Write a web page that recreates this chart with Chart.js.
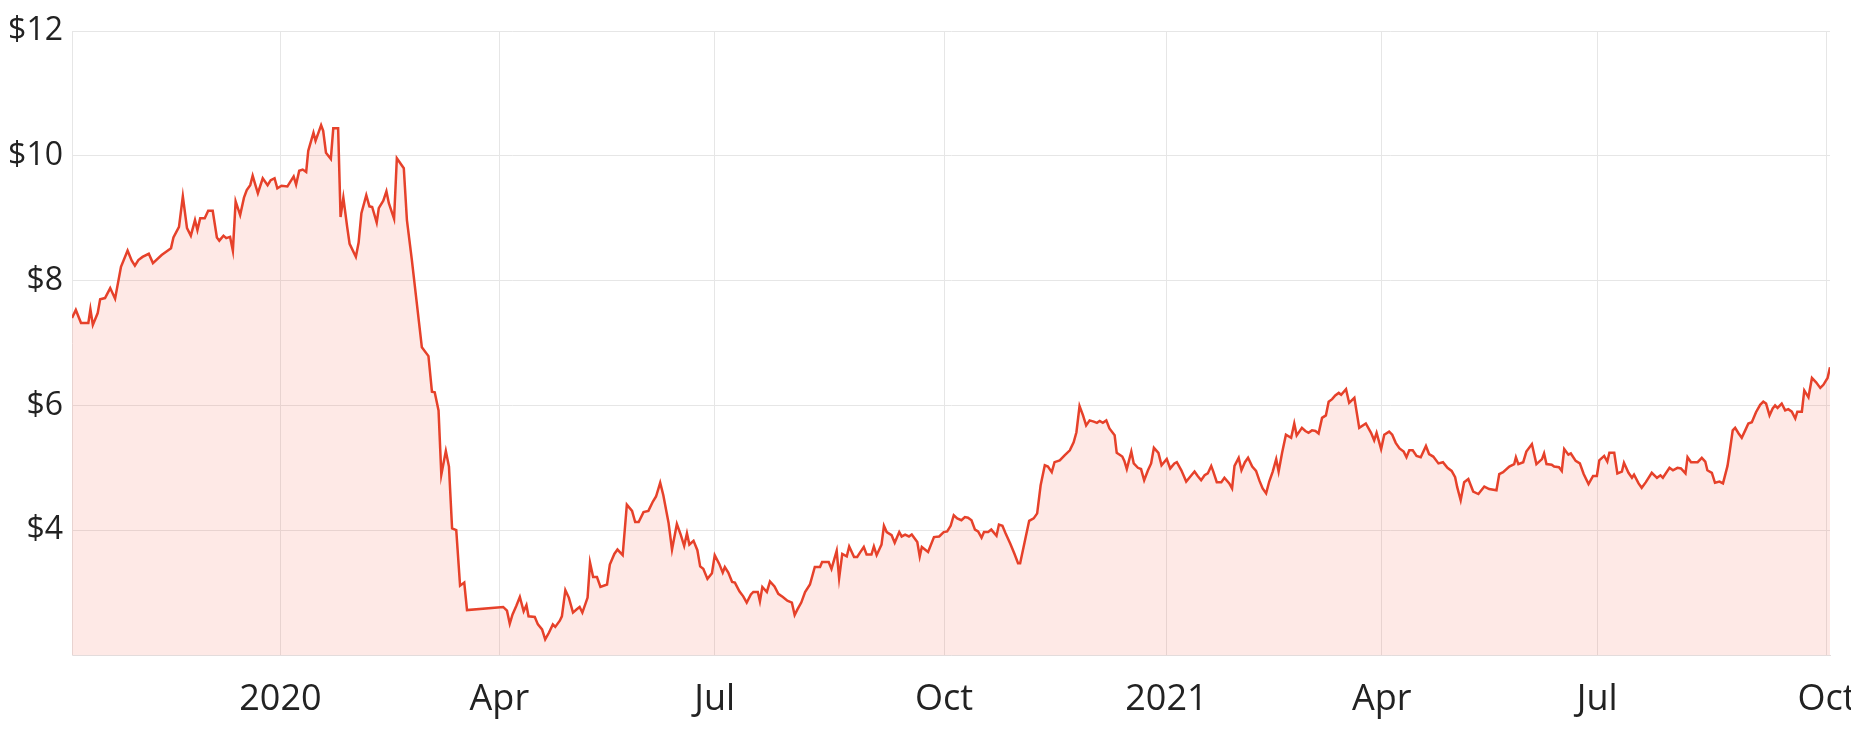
<!DOCTYPE html>
<html>
<head>
<meta charset="utf-8">
<title>Share price</title>
<script src="https://cdn.jsdelivr.net/npm/chart.js@4.4.1/dist/chart.umd.min.js"></script>
<style>
  html, body { margin: 0; padding: 0; background: #fff; }
  #wrap { width: 1851px; height: 732px; }
</style>
</head>
<body>
<div id="wrap"><canvas id="priceChart" width="1851" height="732"></canvas></div>
<script>
// [trading day index (0 = 7 Oct 2019), close price in $]
const late2019 = [
  [0, 7.40], [1.1, 7.53], [2.6, 7.32], [4.7, 7.32], [5.3, 7.54], [6.0, 7.29], [7.4, 7.48],
  [8.1, 7.70], [9.5, 7.72], [11.0, 7.88], [12.4, 7.71], [14.1, 8.22], [16.0, 8.48], [17.2, 8.32],
  [18.1, 8.24], [19.1, 8.33], [20.3, 8.38], [22.1, 8.43], [23.3, 8.28], [25.8, 8.41], [27.5, 8.48],
  [28.5, 8.52], [29.2, 8.69], [30.8, 8.86], [31.9, 9.35], [33.1, 8.84], [34.2, 8.72], [35.4, 8.97],
  [36.1, 8.81], [36.9, 9.00], [38.2, 9.00], [39.2, 9.12], [40.5, 9.12], [41.7, 8.69], [42.4, 8.64],
  [43.6, 8.72], [44.4, 8.68], [45.5, 8.70], [46.3, 8.48], [47.1, 9.27], [48.4, 9.05], [49.5, 9.33],
  [50.3, 9.45], [51.3, 9.53], [52.0, 9.68], [53.5, 9.40], [54.9, 9.64], [56.3, 9.53], [57.2, 9.61],
  [58.3, 9.64], [59.1, 9.48],
];
const q1_2020 = [
  [60.3, 9.52], [62.0, 9.51], [63.8, 9.67], [64.5, 9.54], [65.4, 9.76], [66.4, 9.78], [67.4, 9.74],
  [68.0, 10.08], [69.5, 10.37], [70.1, 10.24], [71.7, 10.49], [72.3, 10.40], [73.1, 10.05],
  [74.5, 9.95], [75.2, 10.44], [76.6, 10.44], [77.3, 9.02], [78.1, 9.33], [79.2, 8.86], [79.9, 8.59],
  [81.7, 8.38], [82.5, 8.61], [83.3, 9.08], [84.7, 9.37], [85.6, 9.19], [86.4, 9.18], [87.7, 8.93],
  [88.3, 9.16], [89.6, 9.28], [90.5, 9.43], [91.2, 9.24], [92.7, 8.99], [93.5, 9.96], [95.5, 9.80],
  [96.4, 8.97], [97.8, 8.34], [100.7, 6.93], [102.6, 6.79], [103.6, 6.22], [104.4, 6.21],
  [105.5, 5.92], [106.3, 4.89], [107.6, 5.27], [108.5, 5.02], [109.4, 4.03], [110.6, 4.00],
  [111.7, 3.11], [112.9, 3.16], [113.7, 2.72],
];
const q2_2020 = [
  [124.1, 2.77], [125.2, 2.71], [126.0, 2.50], [126.8, 2.65], [127.9, 2.79], [128.9, 2.93],
  [130.0, 2.70], [130.8, 2.80], [131.4, 2.62], [133.2, 2.61], [134.1, 2.49], [135.3, 2.41],
  [136.2, 2.25], [137.3, 2.36], [138.4, 2.49], [139.1, 2.45], [140.4, 2.55], [141.0, 2.62],
  [142.0, 3.04], [143.0, 2.92], [144.2, 2.68], [145.2, 2.73], [146.1, 2.77], [146.9, 2.68],
  [148.4, 2.92], [149.1, 3.48], [150.0, 3.25], [151.1, 3.25], [152.1, 3.09], [154.0, 3.13],
  [154.8, 3.45], [156.1, 3.62], [157.0, 3.69], [158.5, 3.60], [159.7, 4.41], [161.2, 4.31],
  [162.1, 4.13], [163.1, 4.13], [164.5, 4.29], [165.9, 4.31], [167.2, 4.46], [168.1, 4.54],
  [169.3, 4.76], [170.2, 4.56], [171.7, 4.12], [172.7, 3.69], [174.1, 4.10], [175.2, 3.93],
  [176.2, 3.75], [177.0, 3.95], [177.7, 3.77], [178.9, 3.83], [180.0, 3.68], [180.8, 3.42],
  [181.7, 3.38], [182.9, 3.22], [184.2, 3.31],
];
const q3_2020 = [
  [185.0, 3.60], [186.3, 3.46], [187.3, 3.32], [187.9, 3.41], [188.9, 3.32], [190.0, 3.17],
  [190.8, 3.16], [192.1, 3.02], [193.2, 2.94], [194.2, 2.84], [195.4, 2.97], [196.1, 3.01],
  [197.4, 3.01], [198.0, 2.86], [198.7, 3.09], [200.0, 3.01], [200.9, 3.18], [202.2, 3.10],
  [203.3, 2.98], [204.6, 2.93], [205.9, 2.87], [207.2, 2.84], [208.0, 2.64], [208.8, 2.73],
  [209.9, 2.84], [211.0, 3.01], [212.4, 3.13], [213.8, 3.41], [215.3, 3.41], [215.9, 3.49],
  [217.8, 3.49], [218.6, 3.38], [220.1, 3.67], [220.8, 3.23], [221.7, 3.62], [223.0, 3.58],
  [223.7, 3.74], [225.1, 3.57], [226.0, 3.57], [226.8, 3.64], [227.9, 3.73], [228.7, 3.61],
  [230.1, 3.61], [230.8, 3.74], [231.6, 3.60], [233.0, 3.77], [233.7, 4.07], [234.5, 3.97],
  [235.9, 3.92], [236.8, 3.80], [238.1, 3.97], [238.8, 3.90], [239.8, 3.93], [240.9, 3.90],
  [241.7, 3.93], [243.3, 3.81], [244.0, 3.58], [244.6, 3.73], [246.4, 3.65], [248.1, 3.89],
  [249.6, 3.90],
];
const q4_2020 = [
  [250.9, 3.97], [251.9, 3.98], [252.9, 4.07], [253.8, 4.24], [254.8, 4.19], [256.0, 4.16],
  [257.0, 4.21], [257.9, 4.20], [258.9, 4.16], [259.9, 4.01], [260.8, 3.98], [261.8, 3.88],
  [262.5, 3.97], [263.7, 3.97], [264.6, 4.01], [266.1, 3.91], [266.8, 4.09], [267.8, 4.07],
  [268.7, 3.95], [270.1, 3.78], [271.2, 3.63], [272.3, 3.47], [272.9, 3.47], [274.2, 3.81],
  [275.5, 4.15], [276.8, 4.19], [277.8, 4.27], [278.8, 4.72], [280.0, 5.04], [280.9, 5.02],
  [282.0, 4.93], [282.8, 5.09], [284.3, 5.12], [285.7, 5.20], [287.2, 5.28], [288.3, 5.41],
  [289.1, 5.57], [290.0, 5.99], [291.0, 5.84], [291.9, 5.68], [292.9, 5.76], [294.1, 5.74],
  [295.0, 5.72], [295.8, 5.75], [296.7, 5.72], [297.7, 5.76], [298.6, 5.63], [300.1, 5.52],
  [300.7, 5.24], [302.3, 5.18], [302.9, 5.11], [303.6, 4.98], [304.9, 5.26], [305.6, 5.07],
  [306.8, 5.00], [307.7, 4.98], [308.6, 4.80], [309.7, 4.96], [310.6, 5.07], [311.4, 5.32],
  [312.7, 5.24], [313.6, 5.04],
];
const q1_2021 = [
  [315.1, 5.14], [316.1, 4.99], [317.3, 5.07], [318.0, 5.09], [319.3, 4.96], [320.7, 4.78],
  [321.9, 4.86], [323.1, 4.94], [324.0, 4.87], [325.0, 4.80], [326.0, 4.88], [326.9, 4.91],
  [327.9, 5.03], [328.5, 4.94], [329.5, 4.77], [330.8, 4.77], [331.7, 4.84], [333.1, 4.75],
  [333.9, 4.67], [334.6, 5.03], [335.8, 5.16], [336.6, 4.96], [337.6, 5.09], [338.5, 5.16],
  [339.7, 5.02], [340.8, 4.95], [341.8, 4.79], [342.7, 4.67], [343.7, 4.59], [344.6, 4.78],
  [345.6, 4.94], [346.6, 5.14], [347.3, 4.94], [348.3, 5.24], [349.4, 5.53], [350.9, 5.48],
  [351.8, 5.71], [352.5, 5.52], [354.0, 5.64], [355.0, 5.59], [355.9, 5.56], [356.9, 5.60],
  [357.9, 5.59], [358.8, 5.55], [359.8, 5.80], [360.9, 5.84], [361.7, 6.06], [362.7, 6.10],
  [363.6, 6.16], [364.6, 6.20], [365.3, 6.17], [366.7, 6.26], [367.6, 6.04], [369.1, 6.12],
  [370.5, 5.64], [372.4, 5.71], [373.9, 5.56], [374.8, 5.44], [375.5, 5.56], [376.8, 5.30],
];
const q2_2021 = [
  [377.7, 5.53], [379.1, 5.58], [380.0, 5.53], [381.0, 5.40], [382.1, 5.31], [383.3, 5.26],
  [384.1, 5.17], [384.9, 5.28], [385.9, 5.28], [387.0, 5.19], [388.2, 5.17], [389.7, 5.35],
  [390.6, 5.22], [391.8, 5.18], [393.3, 5.07], [394.6, 5.09], [395.9, 5.00], [397.1, 4.95],
  [398.1, 4.85], [398.7, 4.69], [399.7, 4.48], [400.7, 4.77], [401.9, 4.82], [403.3, 4.62],
  [404.8, 4.58], [406.5, 4.70], [407.9, 4.66], [410.0, 4.64], [410.8, 4.90], [411.9, 4.93],
  [413.7, 5.02], [415.1, 5.06], [415.6, 5.17], [416.3, 5.06], [417.7, 5.09], [418.6, 5.26],
  [420.2, 5.38], [421.5, 5.06], [423.1, 5.14], [423.7, 5.23], [424.4, 5.06], [425.9, 5.05],
  [426.6, 5.02], [428.0, 5.01], [428.8, 4.95], [429.5, 5.30], [430.7, 5.21], [431.4, 5.23],
  [432.8, 5.11], [434.0, 5.07], [435.1, 4.90], [436.5, 4.74], [437.8, 4.87],
];
const q3_2021 = [
  [438.9, 4.87], [439.6, 5.12], [441.0, 5.19], [441.9, 5.10], [442.5, 5.24], [443.9, 5.24],
  [444.8, 4.91], [446.1, 4.94], [446.7, 5.08], [448.0, 4.92], [449.0, 4.84], [449.6, 4.89],
  [450.9, 4.75], [451.8, 4.68], [453.0, 4.77], [454.7, 4.92], [456.2, 4.84], [457.2, 4.88],
  [457.9, 4.84], [459.8, 5.00], [460.8, 4.96], [462.1, 5.00], [463.1, 4.99], [464.4, 4.91],
  [465.0, 5.17], [466.0, 5.09], [467.9, 5.09], [469.1, 5.16], [470.1, 5.10], [470.7, 4.96],
  [472.0, 4.92], [472.9, 4.76], [474.2, 4.78], [475.2, 4.75], [476.5, 5.03], [477.1, 5.25],
  [478.0, 5.60], [478.7, 5.64], [479.7, 5.55], [480.6, 5.48], [481.6, 5.60], [482.5, 5.71],
  [483.5, 5.73], [484.7, 5.89], [485.9, 6.01], [486.8, 6.06], [487.6, 6.03], [488.6, 5.84],
  [489.5, 5.95], [490.2, 6.00], [490.9, 5.96], [492.1, 6.03], [493.1, 5.92], [494.0, 5.94],
  [495.0, 5.90], [496.0, 5.79], [496.6, 5.90], [497.9, 5.90], [498.6, 6.24], [499.8, 6.13],
  [500.8, 6.44], [502.0, 6.37], [503.2, 6.28], [504.1, 6.33], [505.3, 6.44], [506.0, 6.61],
];

// first trading day of each labelled month
const tickDays = [60, 123, 185, 251, 315, 377, 439, 505];
const tickLabels = ["2020", "Apr", "Jul", "Oct", "2021", "Apr", "Jul", "Oct"];
const priceTicks = [2, 4, 6, 8, 10, 12];

const points = [
  ...late2019, ...q1_2020, ...q2_2020, ...q3_2020,
  ...q4_2020, ...q1_2021, ...q2_2021, ...q3_2021,
].map(([x, y]) => ({ x, y }));

new Chart(document.getElementById("priceChart"), {
  type: "line",
  data: {
    datasets: [
      {
        label: "Price",
        data: points,
        borderColor: "#e6412a",
        borderWidth: 2.5,
        backgroundColor: "rgba(245, 70, 50, 0.12)",
        fill: "start",
        pointRadius: 0,
        tension: 0,
      },
    ],
  },
  options: {
    responsive: false,
    devicePixelRatio: 1,
    animation: false,
    layout: { padding: { top: 31, right: 21, bottom: 0, left: 0 } },
    plugins: {
      legend: { display: false },
      tooltip: { enabled: false },
    },
    scales: {
      x: {
        type: "linear",
        min: 0,
        max: 506,
        grid: { color: "#e6e6e6", drawTicks: false },
        border: { color: "#e3dcdc" },
        ticks: {
          padding: 23,
          autoSkip: false,
          maxRotation: 0,
          color: "#222",
          font: { family: "'Open Sans', sans-serif", size: 36 },
          callback: (value, index) => tickLabels[index],
        },
        afterBuildTicks: (scale) => {
          scale.ticks = tickDays.map((v) => ({ value: v }));
        },
        afterFit: (scale) => {
          scale.height = 77;
          scale.paddingLeft = 0;
          scale.paddingRight = 0;
        },
      },
      y: {
        min: 2,
        max: 12,
        grid: { color: "#e6e6e6", drawTicks: false },
        border: { color: "#e6e6e6" },
        ticks: {
          padding: 9,
          color: "#222",
          font: { family: "'Open Sans', sans-serif", size: 32 },
          callback: (value) => (value === 2 ? "" : "$" + value),
        },
        afterBuildTicks: (scale) => {
          scale.ticks = priceTicks.map((v) => ({ value: v }));
        },
        afterFit: (scale) => {
          scale.width = 72;
          scale.paddingTop = 0;
          scale.paddingBottom = 0;
        },
      },
    },
  },
});
</script>
</body>
</html>
